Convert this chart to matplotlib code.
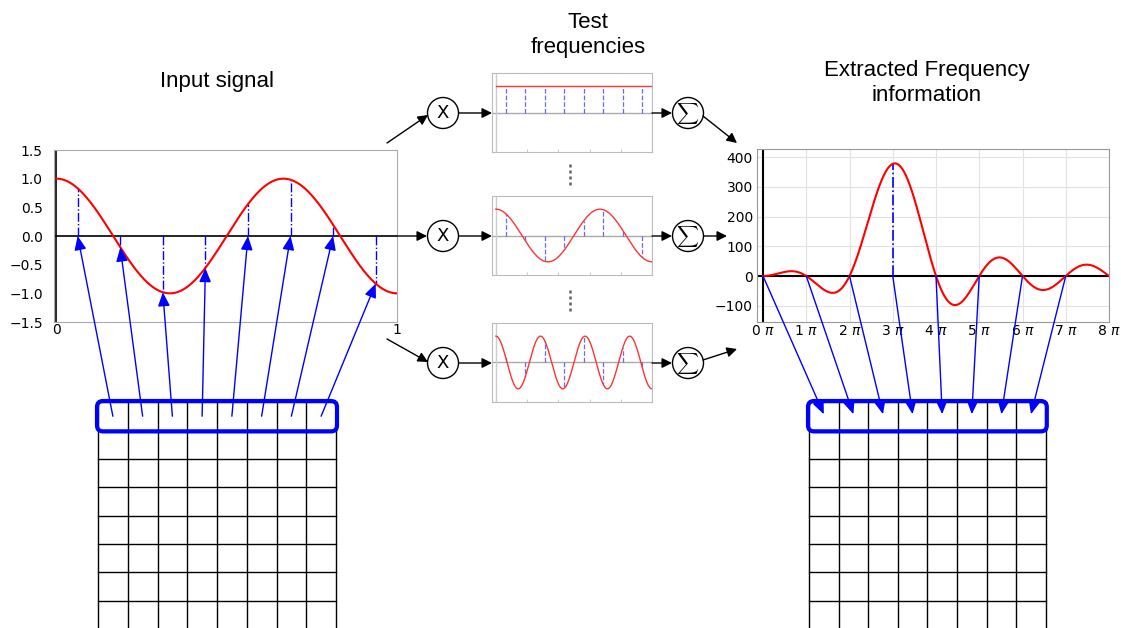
import numpy as np
import matplotlib.pyplot as plt
from matplotlib.patches import Circle, FancyBboxPatch

W, H = 1121, 628

# input signal (frequency in units of pi) and its 8 samples
signal_freq = 3.0
sample_x = [0.0625, 0.1875, 0.3125, 0.4375, 0.5625, 0.6875, 0.8125, 0.9375]
sample_vals = [0.83, -0.2, -0.98, -0.56, 0.56, 0.98, 0.2, -0.83]

# test frequencies (units of pi) and their sampled values
test_freqs = [0.0, 3.0, 7.0]
test_samples = [
    [1, 1, 1, 1, 1, 1, 1, 1],
    [0.83, -0.2, -0.98, -0.56, 0.56, 0.98, 0.2, -0.83],
    [0.2, -0.56, 0.83, -0.98, 0.98, -0.83, 0.56, -0.2],
]

# extracted spectrum
peak_value = 378
freq_ticks = [0, 1, 2, 3, 4, 5, 6, 7, 8]
freq_labels = [f"{k} $\\pi$" for k in freq_ticks]
spec_yticks = [-100, 0, 100, 200, 300, 400]

n_cells = 8

fig = plt.figure(figsize=(W / 100, H / 100), dpi=100)


def px_axes(l, t, r, b):
    return fig.add_axes([l / W, 1 - b / H, (r - l) / W, (b - t) / H])


# ---- input signal ----
ax_in = px_axes(54, 150, 397, 322)
x = np.linspace(0, 1, 500)
ax_in.plot(x, np.cos(signal_freq * np.pi * x), color='red', lw=1.5, zorder=3)
ax_in.axhline(0, color='black', lw=1.2)
ax_in.axvline(0, color='black', lw=1.2)
for sx, sv in zip(sample_x, sample_vals):
    ax_in.plot([sx, sx], [0, sv], color='blue', lw=1, ls='-.')
ax_in.set_xlim(-0.007, 1)
ax_in.set_ylim(-1.5, 1.5)
ax_in.set_xticks([0, 1])
ax_in.set_yticks(np.arange(-1.5, 1.51, 0.5))
ax_in.tick_params(axis='y', length=0, pad=8, labelsize=10)
ax_in.tick_params(axis='x', length=0, pad=1, labelsize=10)
for s in ax_in.spines.values():
    s.set_color('#aaaaaa')

# ---- test frequencies ----
test_boxes = [(73, 152), (196, 275), (323, 402)]
test_axes = []
for (t, b), f, vals in zip(test_boxes, test_freqs, test_samples):
    ax = px_axes(492, t, 652, b)
    ax.plot(x, np.cos(f * np.pi * x), color='#ff3333', lw=1, zorder=3)
    ax.axhline(0, color='#aaaaaa', lw=1)
    ax.axvline(0, color='#cccccc', lw=1)
    for sx, sv in zip(sample_x, vals):
        ax.plot([sx, sx], [0, sv], color='#4444ff', lw=0.9, ls='--', alpha=0.8)
    ax.set_xlim(-0.025, 1)
    ax.set_ylim(-1.5, 1.5)
    ax.set_xticks(np.arange(0, 1.01, 0.2))
    ax.set_yticks([])
    ax.tick_params(axis='x', direction='in', length=2, color='#cccccc', labelbottom=False)
    for s in ax.spines.values():
        s.set_color('#bbbbbb')
    test_axes.append(ax)

# ---- extracted spectrum ----
ax_sp = px_axes(757, 149, 1109, 322)
w = np.linspace(0, 8, 1000)
spec = peak_value * (np.sinc(signal_freq - w) + np.sinc(signal_freq + w))
ax_sp.plot(w, spec, color='red', lw=1.5, zorder=3)
ax_sp.axhline(0, color='black', lw=1.5)
ax_sp.axvline(0, color='black', lw=1.5)
for k in freq_ticks:
    v = peak_value * (np.sinc(signal_freq - k) + np.sinc(signal_freq + k))
    ax_sp.plot([k, k], [0, v], color='blue', lw=1.2, ls='-.')
ax_sp.set_xlim(-0.139, 8)
ax_sp.set_ylim(-155, 428)
ax_sp.set_xticks(freq_ticks)
ax_sp.set_xticklabels(freq_labels)
ax_sp.set_yticks(spec_yticks)
ax_sp.tick_params(axis='y', length=0, pad=3, labelsize=10)
ax_sp.tick_params(axis='x', length=0, pad=1.5, labelsize=10)
ax_sp.grid(color='#e2e2e2', lw=0.8)
ax_sp.set_axisbelow(True)
for s in ax_sp.spines.values():
    s.set_color('#999999')

# ---- overlay in pixel coordinates ----
ov = fig.add_axes([0, 0, 1, 1])
ov.set_xlim(0, W)
ov.set_ylim(H, 0)
ov.axis('off')
ov.set_zorder(10)

title_font = dict(fontfamily='Liberation Sans', fontsize=16, ha='center', va='center')
ov.text(217, 82, "Input signal", **title_font)
ov.text(588, 35, "Test\nfrequencies", linespacing=1.2, **title_font)
ov.text(927, 83, "Extracted Frequency\ninformation", linespacing=1.2, **title_font)


def grid_block(x0, y0, cw, ch):
    for i in range(n_cells + 1):
        ov.plot([x0 + i * cw] * 2, [y0, H + 2], color='black', lw=1)
        ov.plot([x0, x0 + n_cells * cw], [y0 + i * ch] * 2, color='black', lw=1)
    ov.add_patch(FancyBboxPatch((x0 - 1, y0 - 1), n_cells * cw + 2, ch + 2,
                                boxstyle='round,pad=0,rounding_size=6',
                                ec='blue', fc='none', lw=3, zorder=5))
    return [x0 + (i + 0.5) * cw for i in range(n_cells)], y0 + ch / 2


left_cx, left_cy = grid_block(98, 402, 29.75, 28.4)
right_cx, right_cy = grid_block(809, 402, 29.6, 28.4)

blue_arrow = dict(arrowstyle='-|>,head_length=0.7,head_width=0.3', color='blue',
                  lw=1, mutation_scale=12, shrinkA=0, shrinkB=0)
for cx, sx, sv in zip(left_cx, sample_x, sample_vals):
    ov.annotate('', xy=(sx, min(sv, 0)), xycoords=ax_in.transData,
                xytext=(cx, left_cy), textcoords='data',
                arrowprops=blue_arrow, annotation_clip=False)
for cx, k in zip(right_cx, freq_ticks):
    ov.annotate('', xy=(cx, right_cy - 2), xycoords='data',
                xytext=(k, 0), textcoords=ax_sp.transData,
                arrowprops=blue_arrow, annotation_clip=False)

# operator circles
row_y = [113, 236, 363]
for y in row_y:
    ov.add_patch(Circle((443, y), 15.5, ec='black', fc='white', lw=1))
    ov.text(443, y, "X", ha='center', va='center', fontsize=13)
    ov.add_patch(Circle((688, y), 15.5, ec='black', fc='white', lw=1))
    ov.text(688, y, r"$\sum$", ha='center', va='center', fontsize=11,
            math_fontfamily='cm')

black_arrow = dict(arrowstyle='-|>,head_length=0.5,head_width=0.25', color='black',
                   lw=1, mutation_scale=12, shrinkA=0, shrinkB=0)
segments = [
    ((387, 143), (428, 115)), ((397, 236), (427, 236)), ((387, 339), (428, 362)),
    ((459, 113), (492, 113)), ((459, 236), (492, 236)), ((459, 363), (492, 363)),
    ((652, 113), (672, 113)), ((652, 236), (672, 236)), ((652, 363), (672, 363)),
    ((703, 116), (737, 143)), ((704, 236), (727, 236)), ((703, 360), (737, 349)),
]
for a, b in segments:
    ov.annotate('', xy=b, xytext=a, arrowprops=black_arrow)

# "more test frequencies" dots
for y0, y1 in [(164, 185), (290, 313)]:
    ov.plot([570, 570], [y0, y1], color='#666666', lw=1.8, ls=(0, (1.2, 1.2)))

fig.savefig("out.png", dpi=100)
